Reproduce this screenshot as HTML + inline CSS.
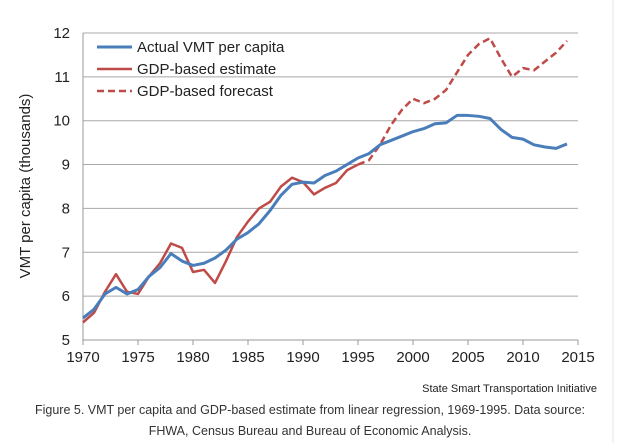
<!DOCTYPE html>
<html><head><meta charset="utf-8"><style>
body{margin:0;background:#fff;font-family:"Liberation Sans",sans-serif;}
svg{display:block}
</style></head><body>
<svg width="620" height="443" viewBox="0 0 620 443">
<rect x="0" y="0" width="620" height="443" fill="#fff"/>
<line x1="613" y1="0" x2="613" y2="443" stroke="#e4e4e4"/>
<g id="grid"></g><g id="axes"></g><g id="series"></g>
<text x="30" y="186" transform="rotate(-90 30 186)" text-anchor="middle" font-size="15" fill="#222">VMT per capita (thousands)</text>
<g>
<line x1="97" y1="47" x2="132" y2="47" stroke="#4a7ebb" stroke-width="3"/>
<text x="137" y="52" font-size="15" fill="#222">Actual VMT per capita</text>
<line x1="97" y1="69" x2="132" y2="69" stroke="#be4b48" stroke-width="2.5"/>
<text x="137" y="74" font-size="15" fill="#222">GDP-based estimate</text>
<line x1="97" y1="91" x2="132" y2="91" stroke="#be4b48" stroke-width="2.5" stroke-dasharray="7,4"/>
<text x="137" y="96" font-size="15" fill="#222">GDP-based forecast</text>
</g>
<text x="597" y="392" text-anchor="end" font-size="11" fill="#222">State Smart Transportation Initiative</text>
<text x="310" y="414" text-anchor="middle" font-size="12.5" fill="#333">Figure 5. VMT per capita and GDP-based estimate from linear regression, 1969-1995. Data source:</text>
<text x="310" y="435" text-anchor="middle" font-size="12.5" fill="#333">FHWA, Census Bureau and Bureau of Economic Analysis.</text>
</svg>
<script>
const yTicks=[5,6,7,8,9,10,11,12];
const xTicks=[1970,1975,1980,1985,1990,1995,2000,2005,2010,2015];
const actualYears=[1970,1971,1972,1973,1974,1975,1976,1977,1978,1979,1980,1981,1982,1983,1984,1985,1986,1987,1988,1989,1990,1991,1992,1993,1994,1995,1996,1997,1998,1999,2000,2001,2002,2003,2004,2005,2006,2007,2008,2009,2010,2011,2012,2013,2014];
const actualVals=[5.5,5.7,6.05,6.2,6.05,6.15,6.45,6.65,6.97,6.8,6.7,6.75,6.87,7.05,7.3,7.45,7.65,7.95,8.3,8.55,8.6,8.58,8.75,8.85,9.0,9.15,9.25,9.45,9.55,9.65,9.75,9.82,9.93,9.95,10.12,10.12,10.1,10.05,9.8,9.62,9.58,9.45,9.4,9.37,9.47];
const estYears=[1970,1971,1972,1973,1974,1975,1976,1977,1978,1979,1980,1981,1982,1983,1984,1985,1986,1987,1988,1989,1990,1991,1992,1993,1994,1995];
const estVals=[5.4,5.62,6.1,6.5,6.1,6.05,6.45,6.75,7.2,7.1,6.55,6.6,6.3,6.8,7.35,7.7,8.0,8.15,8.5,8.7,8.6,8.32,8.47,8.58,8.87,9.0];
const fcYears=[1995,1996,1997,1998,1999,2000,2001,2002,2003,2004,2005,2006,2007,2008,2009,2010,2011,2012,2013,2014];
const fcVals=[9.0,9.1,9.45,9.9,10.25,10.5,10.4,10.5,10.7,11.1,11.5,11.75,11.88,11.42,11.0,11.2,11.15,11.35,11.55,11.82];
const NS='http://www.w3.org/2000/svg';
const X=y=>83+(y-1970)*11;
const Y=v=>340-(v-5)*43.86;
function mk(tag,attrs,parent){const e=document.createElementNS(NS,tag);for(const k in attrs)e.setAttribute(k,attrs[k]);document.getElementById(parent).appendChild(e);return e;}
yTicks.forEach(v=>{
  if(v>5){const l=mk('line',{x1:83,x2:578,y1:Y(v),y2:Y(v),stroke:'#a8a8a8','stroke-width':1},'grid');
  
  }
  const t=mk('text',{x:70,y:Y(v)+5,'text-anchor':'end','font-size':15,fill:'#222'},'axes');t.textContent=v;
  
  
});
const ax=mk('line',{x1:83,x2:578,y1:340,y2:340,stroke:'#999'},'axes');


const ay=mk('line',{x1:83,x2:83,y1:33,y2:340,stroke:'#999'},'axes');


xTicks.forEach(y=>{
  mk('line',{x1:X(y),x2:X(y),y1:340,y2:345,stroke:'#999'},'axes');
  const t=mk('text',{x:X(y),y:362,'text-anchor':'middle','font-size':15,fill:'#222'},'axes');t.textContent=y;
  
  
});
function pts(xs,vs){return xs.map((y,i)=>X(y)+','+Y(vs[i])).join(' ');}
const p1=mk('polyline',{points:pts(estYears,estVals),fill:'none',stroke:'#be4b48','stroke-width':2.5,'stroke-linejoin':'round'},'series');


const p2=mk('polyline',{points:pts(fcYears,fcVals),fill:'none',stroke:'#be4b48','stroke-width':2.5,'stroke-dasharray':'7,4'},'series');


const p3=mk('polyline',{points:pts(actualYears,actualVals),fill:'none',stroke:'#4a7ebb','stroke-width':3,'stroke-linejoin':'round'},'series');


</script>
</body></html>
